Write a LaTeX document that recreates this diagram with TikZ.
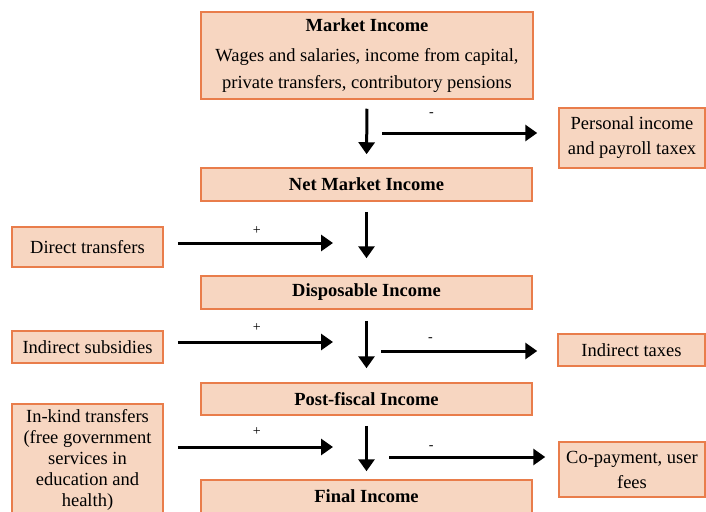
\documentclass[tikz,border=0pt]{standalone}
\usepackage{fontspec}
\setmainfont{Liberation Serif}
\usetikzlibrary{arrows.meta}

\definecolor{boxfill}{RGB}{247,214,193}
\definecolor{boxline}{RGB}{233,125,75}

\begin{document}
\begin{tikzpicture}[x=1pt, y=-1pt,
	box/.style={draw=boxline, fill=boxfill, line width=1.5pt, inner sep=0pt, align=center, font=\fontsize{18.5}{24}\selectfont},
	flow/.style={line width=3pt, -{Triangle[length=12pt, width=16pt]}},
	sign/.style={font=\fontsize{14}{14}\selectfont, inner sep=0pt}]
	
	\useasboundingbox (0,0) rectangle (706,511);
	\clip (0,0) rectangle (706,511);
	
	% Income concepts (middle column)
	\node[box, minimum width=332pt, minimum height=87pt, font=\fontsize{18.5}{27}\selectfont] (market) at (367,55.5)
		{\textbf{Market Income}\\[3pt] Wages and salaries, income from capital,\\ private transfers, contributory pensions};
	\node[box, minimum width=331pt, minimum height=33pt] (netmkt) at (366.5,184.5) {\textbf{Net Market Income}};
	\node[box, minimum width=331pt, minimum height=33pt] (disp) at (366.5,292.5) {\textbf{Disposable Income}};
	\node[box, minimum width=331pt, minimum height=32pt] (post) at (366.5,399) {\textbf{Post-fiscal Income}};
	\node[box, minimum width=331pt, minimum height=33pt] (final) at (366.5,496.5) {\textbf{Final Income}};
	
	% Additions (left column)
	\node[box, minimum width=151pt, minimum height=40pt] (direct) at (87.5,247) {Direct transfers};
	\node[box, minimum width=151pt, minimum height=32pt] (subsid) at (87.5,347) {Indirect subsidies};
	\node[box, minimum width=151pt, minimum height=112pt, anchor=north, font=\fontsize{18.5}{21}\selectfont] (inkind) at (87.5,403)
		{In-kind transfers\\(free government\\services in\\education and\\health)};
	
	% Deductions (right column)
	\node[box, minimum width=146pt, minimum height=60pt, font=\fontsize{18.5}{25}\selectfont] (personal) at (632,138) {Personal income\\and payroll taxex};
	\node[box, minimum width=147pt, minimum height=32pt] (indtax) at (631.5,350) {Indirect taxes};
	\node[box, minimum width=146pt, minimum height=55pt, font=\fontsize{18.5}{25}\selectfont] (copay) at (632,469.5) {Co-payment, user\\fees};
	
	% Down arrows
	\draw[flow, shorten <=9pt, shorten >=13pt] (market.south) -- (netmkt.north);
	\draw[flow, shorten <=10pt, shorten >=17pt] (netmkt.south) -- (disp.north);
	\draw[flow, shorten <=11pt, shorten >=14pt] (disp.south) -- (post.north);
	\draw[flow, shorten <=10pt, shorten >=8pt] (post.south) -- (final.north);
	
	% Arrows in from the left
	\coordinate (in1) at (333,243);
	\coordinate (in2) at (333,342);
	\coordinate (in3) at (333,447);
	\draw[flow, shorten <=14pt] (direct.east |- in1) -- node[sign, pos=0.55, yshift=12pt] {+} (in1);
	\draw[flow, shorten <=14pt] (subsid.east |- in2) -- node[sign, pos=0.55, yshift=14pt] {+} (in2);
	\draw[flow, shorten <=14pt] (inkind.east |- in3) -- node[sign, pos=0.55, yshift=15pt] {+} (in3);
	
	% Arrows out to the right
	\coordinate (out1) at (382,133);
	\coordinate (out2) at (381,351);
	\coordinate (out3) at (389,457);
	\draw[flow, shorten >=21pt] (out1) -- node[sign, pos=0.28, yshift=18pt] {-} (out1 -| personal.west);
	\draw[flow, shorten >=20pt] (out2) -- node[sign, pos=0.28, yshift=11pt] {-} (out2 -| indtax.west);
	\draw[flow, shorten >=13pt] (out3) -- node[sign, pos=0.25, yshift=9pt] {-} (out3 -| copay.west);
	
\end{tikzpicture}
\end{document}
